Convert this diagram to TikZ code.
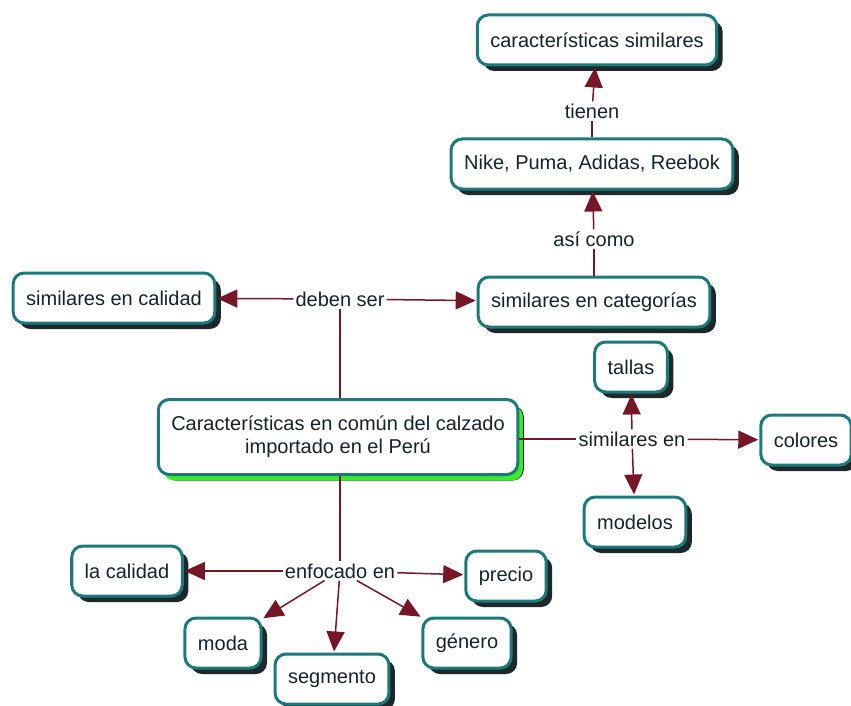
\documentclass[tikz,border=0pt]{standalone}
\usepackage{fontspec}
\setmainfont{Liberation Sans}
\usetikzlibrary{arrows.meta,shadows}
\definecolor{boxborder}{RGB}{28,122,124}
\definecolor{boxshadow}{RGB}{28,40,42}
\definecolor{linkc}{RGB}{118,22,38}
\definecolor{textc}{RGB}{22,34,48}
\definecolor{glow}{RGB}{60,235,40}
\tikzset{
  concept/.style={draw=boxborder, line width=3pt, rounded corners=11pt, fill=white,
    text=textc, font=\fontsize{20}{23}\selectfont, inner xsep=13pt, minimum height=50pt,
    drop shadow={shadow xshift=6pt, shadow yshift=-6pt, fill=boxshadow, opacity=1}},
  mainconcept/.style={concept, align=center, minimum height=75pt,
    drop shadow={shadow xshift=5pt, shadow yshift=-6pt, fill=glow, opacity=1}},
  linklabel/.style={fill=white, text=textc, font=\fontsize{20}{23}\selectfont, inner sep=2pt},
  link/.style={draw=linkc, line width=1.5pt},
  arrowlink/.style={link, -{Triangle[length=20pt,width=18pt]}, shorten >=1pt},
}
\begin{document}
\begin{tikzpicture}[x=1pt,y=-1pt]
\useasboundingbox (0,0) rectangle (851,706);

% concepts
\node[concept] (carsim) at (597,40) {características similares};
\node[concept] (marcas) at (592,164) {Nike, Puma, Adidas, Reebok};
\node[concept] (simcat) at (594,302) {similares en categorías};
\node[concept] (simcal) at (114,298) {similares en calidad};
\node[mainconcept] (main) at (338,437) {Características en común del calzado\\importado en el Perú};
\node[concept] (tallas) at (631,367) {tallas};
\node[concept] (colores) at (806,440) {colores};
\node[concept] (modelos) at (635,522) {modelos};
\node[concept] (lacal) at (127,571) {la calidad};
\node[concept] (precio) at (506,576) {precio};
\node[concept] (moda) at (223,643) {moda};
\node[concept] (segmento) at (332,679) {segmento};
\node[concept] (genero) at (467,643) {género};

% linking phrases
\node[linklabel] (tienen) at (592,111) {tienen};
\node[linklabel] (asicomo) at (594,239) {así como};
\node[linklabel] (deben) at (340,299) {deben ser};
\node[linklabel] (simen) at (632,439) {similares en};
\node[linklabel] (enfoc) at (340,571) {enfocado en};

% connectors
\draw[link] (marcas) -- (tienen);
\draw[arrowlink] (tienen) -- (carsim);
\draw[link] (simcat) -- (asicomo);
\draw[arrowlink] (asicomo) -- (marcas);
\draw[link] (main.north -| deben) -- (deben);
\draw[arrowlink] (deben) -- (simcal);
\draw[arrowlink] (deben) -- (simcat);
\draw[link] (main.east |- simen) -- (simen);
\draw[arrowlink] (simen) -- (tallas);
\draw[arrowlink] (simen) -- (colores);
\draw[arrowlink] (simen) -- (modelos);
\draw[link] (main.south -| enfoc) -- (enfoc);
\draw[arrowlink] (enfoc) -- (lacal);
\draw[arrowlink] (enfoc) -- (precio);
\draw[arrowlink] (enfoc) -- (moda);
\draw[arrowlink] (enfoc) -- (segmento);
\draw[arrowlink] (enfoc) -- (genero);
\end{tikzpicture}
\end{document}
